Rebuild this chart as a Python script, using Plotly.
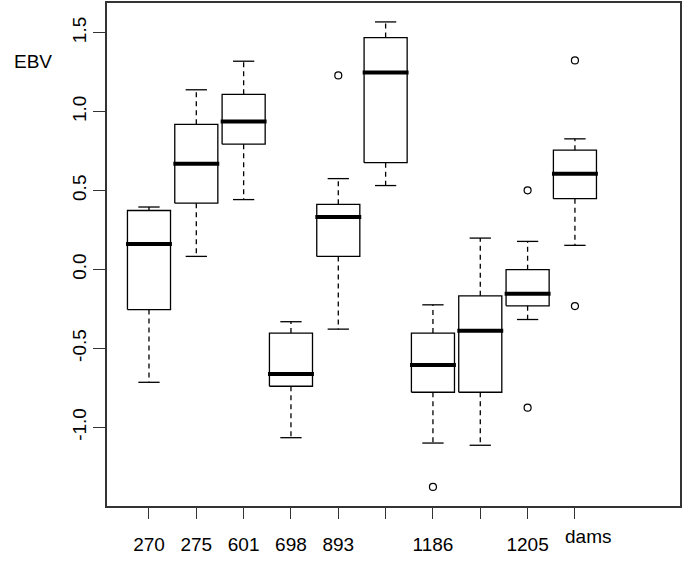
import plotly.graph_objects as go

# --- data ---
labels = ["270", "275", "601", "698", "893", "", "1186", "", "1205", "dams"]
lower_whisker = [-0.715, 0.083, 0.443, -1.066, -0.378, 0.532, -1.100, -1.114, -0.317, 0.153]
q1 = [-0.254, 0.420, 0.794, -0.740, 0.083, 0.677, -0.778, -0.778, -0.230, 0.449]
median = [0.161, 0.670, 0.938, -0.662, 0.333, 1.249, -0.605, -0.388, -0.153, 0.607]
q3 = [0.374, 0.920, 1.110, -0.403, 0.413, 1.470, -0.403, -0.167, -0.001, 0.756]
upper_whisker = [0.396, 1.139, 1.320, -0.331, 0.576, 1.569, -0.224, 0.199, 0.178, 0.828]
outlier_pos = [5, 7, 9, 9, 10, 10]
outlier_val = [1.230, -1.378, 0.502, -0.876, 1.325, -0.232]

FONT = "Liberation Sans, Arial, sans-serif"
BOX_HW = 0.455
CAP_HW = 0.225

positions = list(range(1, len(labels) + 1))

box_x, box_y = [], []
med_x, med_y = [], []
wh_x, wh_y = [], []
cap_x, cap_y = [], []
for p, lo, a, m, b, hi in zip(positions, lower_whisker, q1, median, q3, upper_whisker):
  box_x += [p - BOX_HW, p + BOX_HW, p + BOX_HW, p - BOX_HW, p - BOX_HW, None]
  box_y += [a, a, b, b, a, None]
  med_x += [p - BOX_HW - 0.03, p + BOX_HW + 0.03, None]
  med_y += [m, m, None]
  wh_x += [p, p, None, p, p, None]
  wh_y += [b, hi, None, a, lo, None]
  cap_x += [p - CAP_HW, p + CAP_HW, None, p - CAP_HW, p + CAP_HW, None]
  cap_y += [hi, hi, None, lo, lo, None]

fig = go.Figure()
fig.add_trace(go.Scatter(x=wh_x, y=wh_y, mode="lines",
                         line=dict(color="black", width=1.3, dash="5px,4px")))
fig.add_trace(go.Scatter(x=cap_x, y=cap_y, mode="lines",
                         line=dict(color="black", width=1.3)))
fig.add_trace(go.Scatter(x=box_x, y=box_y, mode="lines",
                         line=dict(color="black", width=1.3)))
fig.add_trace(go.Scatter(x=med_x, y=med_y, mode="lines",
                         line=dict(color="black", width=4)))
fig.add_trace(go.Scatter(x=outlier_pos, y=outlier_val, mode="markers",
                         marker=dict(symbol="circle-open", size=7,
                                     color="black", line=dict(width=1.2))))

# plot area spans x 107..680 px, y 1..506 px
fig.add_annotation(x=(33 - 107) / 573, y=1 - (60 - 1) / 505, xref="paper", yref="paper",
                   xanchor="center", yanchor="middle",
                   text="EBV", showarrow=False,
                   font=dict(size=19, color="black", family=FONT))
fig.add_annotation(x=(588 - 107) / 573, y=1 - (537 - 1) / 505, xref="paper", yref="paper",
                   xanchor="center", yanchor="middle",
                   text="dams", showarrow=False,
                   font=dict(size=19, color="black", family=FONT))

tick_text = [t if t != "dams" else "" for t in labels]

fig.update_layout(
  width=685, height=579,
  margin=dict(l=107, r=5, t=1, b=73),
  plot_bgcolor="white", paper_bgcolor="white",
  showlegend=False,
  font=dict(family=FONT, size=19, color="black"),
  xaxis=dict(range=[0.113, 12.22], tickvals=positions, ticktext=tick_text,
             ticks="outside", ticklen=11, tickwidth=1.3, tickcolor="#333",
             showline=True, linecolor="#333", linewidth=1.5, mirror=True,
             showgrid=False, zeroline=False, ticklabelstandoff=9),
  yaxis=dict(range=[-1.499, 1.689],
             tickvals=[-1.0, -0.5, 0.0, 0.5, 1.0, 1.5],
             ticktext=["-1.0", "-0.5", "0.0", "0.5", "1.0", "1.5"],
             tickangle=-90,
             ticks="outside", ticklen=12, tickwidth=1.3, tickcolor="#333",
             showline=True, linecolor="#333", linewidth=1.5, mirror=True,
             showgrid=False, zeroline=False, ticklabelstandoff=0),
)

fig.write_html("out.html", config={"displayModeBar": False},
               post_script="document.body.style.margin='0px';")
